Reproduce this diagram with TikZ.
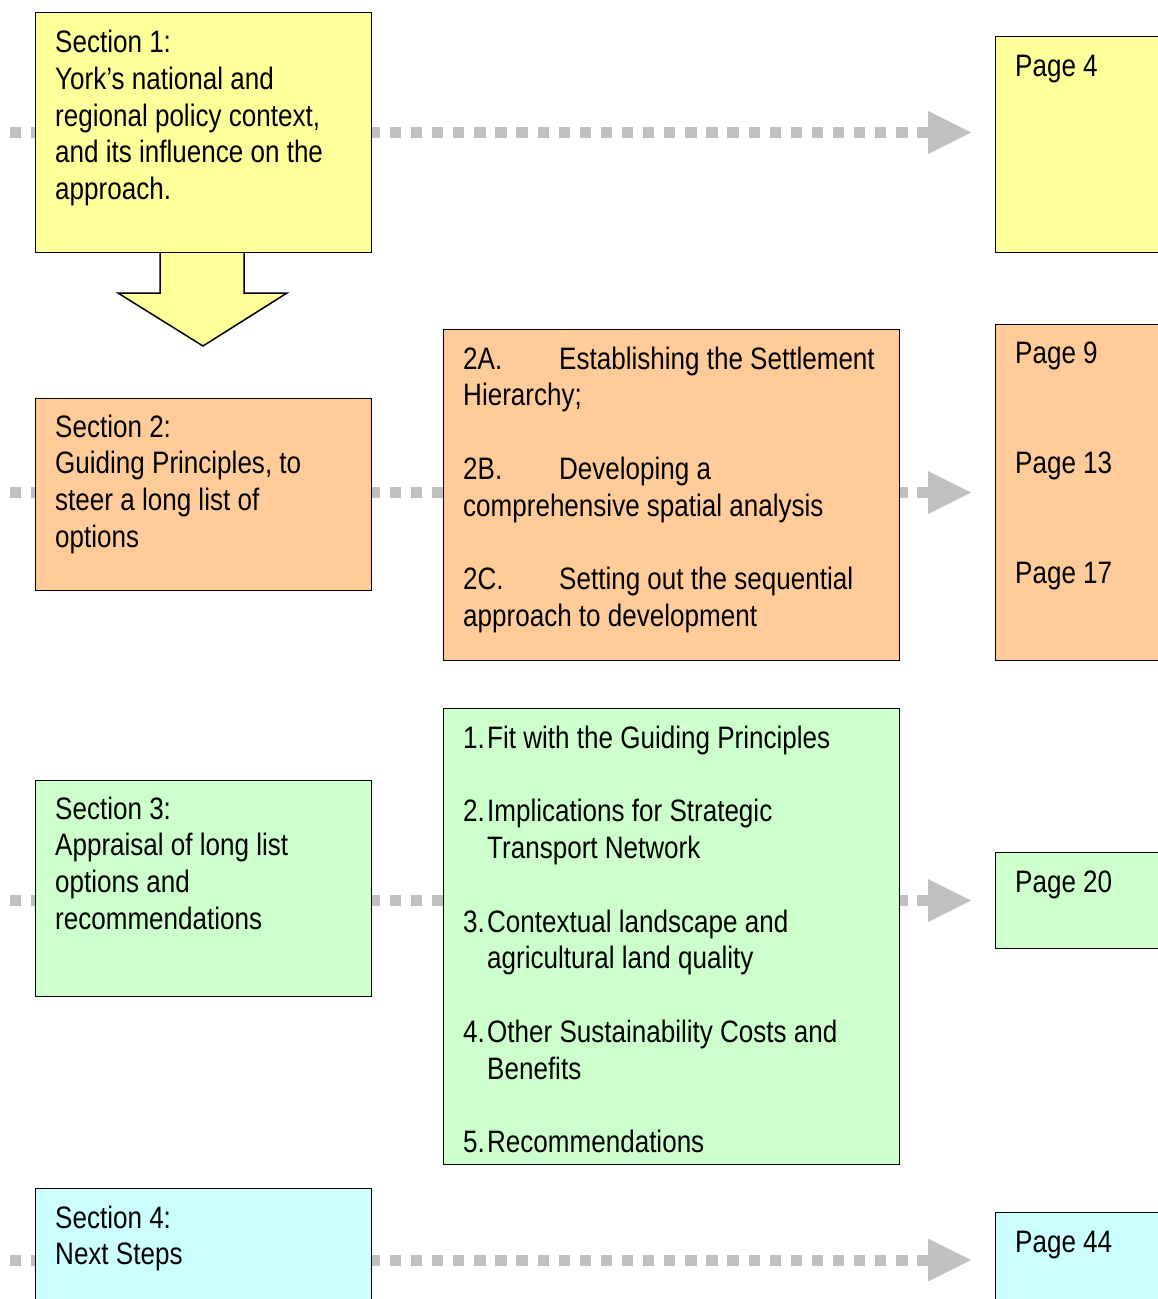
\documentclass[tikz,border=0pt]{standalone}
\usepackage{fontspec}
\setmainfont[FakeStretch=0.84]{Liberation Sans}
\definecolor{cyel}{HTML}{FFFF99}
\definecolor{corg}{HTML}{FFCC99}
\definecolor{cgrn}{HTML}{CCFFCC}
\definecolor{ccyn}{HTML}{CCFFFF}
\definecolor{cgry}{HTML}{C0C0C0}
\newcommand{\tabbed}[1]{\makebox[96pt][l]{#1}}
\newcommand{\itm}[1]{\makebox[24pt][l]{#1}}
\newcommand{\ind}{\hspace*{24pt}}
\begin{document}
\begin{tikzpicture}[x=1pt,y=-1pt,
  box/.style={draw=black, line width=1.8pt, inner sep=0pt, anchor=north west},
  txt/.style={inner sep=0pt, anchor=base west, font=\fontsize{31}{36.8}\selectfont},
  flowline/.style={draw=cgry, line width=11pt, dash pattern=on 11.3pt off 9.8pt, shorten >=43pt},
  flowhead/.style={fill=cgry, draw=none},
  bigarrow/.style={fill=cyel, draw=black, line width=1.5pt, line join=miter},
]
\clip (0,0) rectangle (1158,1299);
\fill[white] (0,0) rectangle (1158,1299);

% connectors (behind boxes)
\coordinate (a1s) at (10,132.5);  \coordinate (a1e) at (971,132.5);
\coordinate (a2s) at (10,492.5);  \coordinate (a2e) at (971,492.5);
\coordinate (a3s) at (10,900.5);  \coordinate (a3e) at (971,900.5);
\coordinate (a4s) at (10,1260);   \coordinate (a4e) at (971,1260);
\foreach \r in {1,2,3,4}{
  \draw[flowline] (a\r s) -- (a\r e);
  \fill[flowhead] (a\r e) -- ++(-43,-21.5) -- ++(0,43) -- cycle;
}

% big down arrow
\filldraw[bigarrow] (160,250) -- (160,293) -- (118,293) -- (203,346) -- (287,293) -- (244,293) -- (244,250);

% boxes
\node[box, fill=cyel, minimum width=336pt, minimum height=240pt] (s1) at (34.5,11.5) {};
\node[box, fill=cyel, minimum width=200pt, minimum height=216pt] (p4) at (994.5,35.5) {};
\node[box, fill=corg, minimum width=336pt, minimum height=192pt] (s2) at (34.5,397.5) {};
\node[box, fill=corg, minimum width=456pt, minimum height=331pt] (m2) at (442.5,328.5) {};
\node[box, fill=corg, minimum width=200pt, minimum height=336pt] (p9) at (994.5,323.5) {};
\node[box, fill=cgrn, minimum width=336pt, minimum height=216pt] (s3) at (34.5,779.5) {};
\node[box, fill=cgrn, minimum width=456pt, minimum height=456pt] (m3) at (442.5,707.5) {};
\node[box, fill=cgrn, minimum width=200pt, minimum height=96pt] (p20) at (994.5,851.5) {};
\node[box, fill=ccyn, minimum width=336pt, minimum height=140pt] (s4) at (34.5,1187.5) {};
\node[box, fill=ccyn, minimum width=200pt, minimum height=120pt] (p44) at (994.5,1211.5) {};

% texts
\node[txt] (s1t) at (55,52.5) {\parbox[t]{320pt}{\raggedright
  Section 1:\\York’s national and\\regional policy context,\\and its influence on the\\approach.}};
\node[txt] (p4t) at (1015,76) {Page 4};
\node[txt] (s2t) at (55,437) {\parbox[t]{320pt}{\raggedright
  Section 2:\\Guiding Principles, to\\steer a long list of\\options}};
\node[txt] (m2t) at (463,369) {\parbox[t]{440pt}{\raggedright
  \tabbed{2A.}Establishing the Settlement\\Hierarchy;\\[36.8pt]
  \tabbed{2B.}Developing a\\comprehensive spatial analysis\\[36.8pt]
  \tabbed{2C.}Setting out the sequential\\approach to development}};
\node[txt] (p9t) at (1015,363) {\parbox[t]{140pt}{\raggedright
  Page 9\\[73.6pt]Page 13\\[73.6pt]Page 17}};
\node[txt] (s3t) at (55,819) {\parbox[t]{320pt}{\raggedright
  Section 3:\\Appraisal of long list\\options and\\recommendations}};
\node[txt] (m3t) at (463,748) {\parbox[t]{440pt}{\raggedright
  \itm{1.}Fit with the Guiding Principles\\[36.8pt]
  \itm{2.}Implications for Strategic\\\ind Transport Network\\[36.8pt]
  \itm{3.}Contextual landscape and\\\ind agricultural land quality\\[36.8pt]
  \itm{4.}Other Sustainability Costs and\\\ind Benefits\\[36.8pt]
  \itm{5.}Recommendations}};
\node[txt] (p20t) at (1015,892) {Page 20};
\node[txt] (s4t) at (55,1228) {\parbox[t]{320pt}{\raggedright
  Section 4:\\Next Steps}};
\node[txt] (p44t) at (1015,1252) {Page 44};
\end{tikzpicture}
\end{document}
